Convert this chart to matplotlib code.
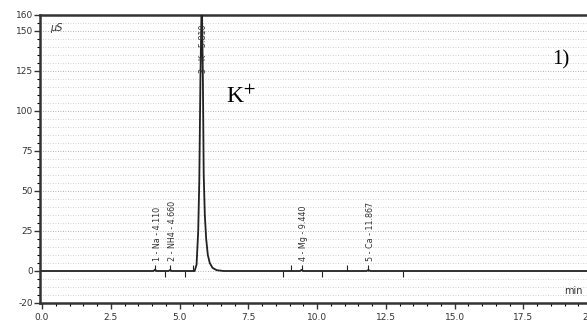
import matplotlib.pyplot as plt
import numpy as np

# chromatogram trace (time in min, conductivity in uS)
trace_t = [0.0, 4.05, 4.11, 4.17, 4.60, 4.66, 4.72, 5.55, 5.62, 5.68, 5.72, 5.76, 5.81,
           5.85, 5.88, 5.92, 5.97, 6.03, 6.10, 6.20, 6.35, 6.60, 9.38, 9.44, 9.50,
           11.80, 11.87, 11.94, 20.5]
trace_y = [0.0, 0.0, 0.8, 0.0, 0.0, 0.6, 0.0, 0.0, 4.0, 25.0, 57.0, 120.0, 175.0,
           120.0, 60.0, 35.0, 20.0, 10.0, 5.0, 2.0, 0.5, 0.0, 0.0, 0.7, 0.0,
           0.0, 0.6, 0.0, 0.0]

# peak labels
peak_names = ["1 - Na - 4.110", "2 - NH4 - 4.660", "3 - K - 5.810", "4 - Mg - 9.440", "5 - Ca - 11.867"]
peak_rt = [4.11, 4.66, 5.81, 9.44, 11.867]
label_y = [6.0, 6.0, 124.0, 6.0, 6.0]

# integration markers on the baseline
marks_up = [4.11, 4.66, 5.49, 9.05, 9.44, 11.09, 11.867]
marks_down = [4.47, 5.20, 8.76, 10.18, 13.13]

yticks = [-20, 0, 25, 50, 75, 100, 125, 150, 160]
xticks = [0.0, 2.5, 5.0, 7.5, 10.0, 12.5, 15.0, 17.5, 20.0]

plt.rcParams["mathtext.fontset"] = "stix"

fig = plt.figure(figsize=(5.87, 3.21), dpi=100)
ax = fig.add_axes([40 / 587, 18 / 321, 560 / 587, 288 / 321])
ax.set_xlim(-0.073, 20.29)
ax.set_ylim(-20, 160)

# dotted grid, faint like the scan
for g in np.arange(-15, 160, 5):
    dark = g % 25 == 0
    ax.axhline(g, color="#999999" if dark else "#c4c4c4", lw=0.6, ls=(0, (1, 2)), zorder=0)

ax.plot(trace_t, trace_y, color="#222222", lw=1.3, zorder=3)
ax.vlines(marks_up, 0, 4, color="#222222", lw=0.8)
ax.vlines(marks_down, -4, 0, color="#222222", lw=0.8)

for name, rt, ly in zip(peak_names, peak_rt, label_y):
    ax.text(rt + 0.08, ly, name, rotation=90, ha="center", va="bottom",
            fontsize=5.8, color="#333333", zorder=4)

ax.text(0.3, 152, "\u00b5S", fontsize=7, style="italic", ha="left", va="center", color="#333333")
ax.text(19.0, -12.5, "min", fontsize=7, ha="left", va="center", color="#333333")
ax.text(6.7, 109, r"K$^{+}$", fontsize=17, family="Liberation Serif", ha="left", va="center")
ax.text(18.55, 132, "1)", fontsize=15, family="Liberation Serif", ha="left", va="center")

ax.set_yticks(yticks)
ax.set_yticklabels([str(v) for v in yticks])
ax.set_yticks(np.arange(-20, 161, 5), minor=True)
ax.set_xticks(xticks)
ax.set_xticklabels(["%.1f" % v for v in xticks])
ax.set_xticks(np.arange(0, 20.5, 0.5), minor=True)
ax.tick_params(labelsize=6.5, colors="#333333", length=4, width=1)
ax.tick_params(which="minor", length=2, width=0.8)
ax.tick_params(axis="x", pad=3)
ax.tick_params(axis="y", pad=1)

for s in ["left", "top", "bottom"]:
    ax.spines[s].set_linewidth(1.8)
    ax.spines[s].set_color("#333333")
ax.spines["right"].set_visible(False)

fig.savefig("out.png", dpi=100)
